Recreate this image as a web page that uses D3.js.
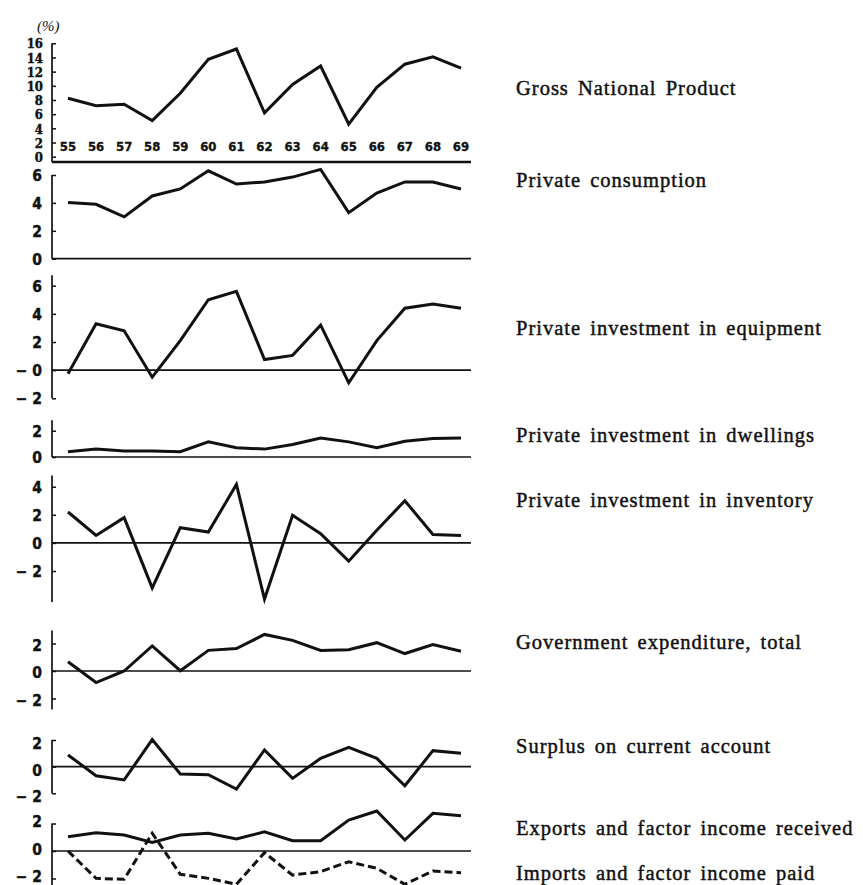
<!DOCTYPE html>
<html><head><meta charset="utf-8">
<script src="https://cdn.jsdelivr.net/npm/d3@7"></script>
<style>body{margin:0;background:#fff}svg{display:block}</style>
</head><body>
<svg id="c" width="863" height="885"></svg>
<script>
// ---------- data ----------
const years = ["55","56","57","58","59","60","61","62","63","64","65","66","67","68","69"];
const gnp         = [8.25, 7.2, 7.4, 5.1, 8.95, 13.75, 15.2, 6.2, 10.2, 12.8, 4.6, 9.8, 13.05, 14.1, 12.5];
const consumption = [4.03, 3.9, 3.0, 4.5, 5.0, 6.3, 5.35, 5.5, 5.85, 6.4, 3.3, 4.7, 5.5, 5.5, 5.0];
const equipment   = [-0.25, 3.3, 2.8, -0.5, 2.1, 5.0, 5.6, 0.75, 1.05, 3.2, -0.9, 2.1, 4.4, 4.7, 4.4];
const dwellings   = [0.4, 0.6, 0.45, 0.45, 0.4, 1.15, 0.7, 0.6, 0.95, 1.45, 1.15, 0.7, 1.2, 1.4, 1.45];
const inventory   = [2.2, 0.53, 1.8, -3.2, 1.08, 0.77, 4.16, -4.0, 1.96, 0.65, -1.3, 0.9, 3.0, 0.6, 0.53];
const government  = [0.67, -0.84, 0.0, 1.82, 0.02, 1.5, 1.63, 2.66, 2.23, 1.5, 1.55, 2.06, 1.27, 1.92, 1.44];
const surplus     = [0.88, -0.68, -1.0, 2.03, -0.55, -0.6, -1.68, 1.25, -0.88, 0.62, 1.45, 0.62, -1.43, 1.2, 1.0];
const exportsInc  = [1.04, 1.33, 1.16, 0.63, 1.16, 1.29, 0.87, 1.4, 0.75, 0.75, 2.25, 2.91, 0.8, 2.74, 2.57];
const importsPaid = [0.0, -1.99, -2.06, 1.29, -1.69, -1.99, -2.42, -0.12, -1.75, -1.5, -0.78, -1.26, -2.42, -1.45, -1.58];

const gnpTicks = [0, 2, 4, 6, 8, 10, 12, 14, 16];
const gnpTickLabels = ["0","2","4","6","8","10","12","14","16"];
const consTicks = [0, 2, 4, 6];
const consTickLabels = ["0","2","4","6"];
const equipTicks = [-2, 0, 2, 4, 6];
const equipTickLabels = ["\u2212 2","\u2212 0","2","4","6"];
const dwellTicks = [0, 2];
const dwellTickLabels = ["0","2"];
const invTicks = [-2, 0, 2, 4];
const invTickLabels = ["\u2212 2","0","2","4"];
const pmTicks = [-2, 0, 2];
const pmTickLabels = ["\u2212 2","0","2"];

const seriesNames = [
  "Gross National Product",
  "Private consumption",
  "Private investment in equipment",
  "Private investment in dwellings",
  "Private investment in inventory",
  "Government expenditure, total",
  "Surplus on current account",
  "Exports and factor income received",
  "Imports and factor income paid"
];

// ---------- layout ----------
const AX = 52, XEND = 471;
const svg = d3.select("#c");
const x = d3.scalePoint().domain(years).range([68, 461]);
const SANS = "'DejaVu Sans Condensed','DejaVu Sans',sans-serif";
const SERIF = "'Liberation Serif','Times New Roman',serif";

const panels = [
  {vals:[gnp], dash:[null], domain:[0,16], range:[156.7,43.3], ext:[0,16], bottom:162, ticks:gnpTicks, labels:gnpTickLabels,
   font:"'DejaVu Serif Condensed','DejaVu Serif',serif", fsize:13, pad:9, ldy:0, baseline:true, names:[0], nameY:[95]},
  {vals:[consumption], dash:[null], domain:[0,6], range:[258.7,175], ext:[0,6], ticks:consTicks, labels:consTickLabels,
   font:SANS, fsize:15.5, pad:10, ldy:0, names:[1], nameY:[187]},
  {vals:[equipment], dash:[null], domain:[-2,6], range:[398.3,285.7], ext:[-2,6.75], ticks:equipTicks, labels:equipTickLabels,
   font:SANS, fsize:15.5, pad:10, ldy:0, names:[2], nameY:[335]},
  {vals:[dwellings], dash:[null], domain:[0,2], range:[457,430.7], ext:[0,2.8], ticks:dwellTicks, labels:dwellTickLabels,
   font:SANS, fsize:15.5, pad:10, ldy:0, names:[3], nameY:[441.7]},
  {vals:[inventory], dash:[null], domain:[-2,4], range:[571,486.7], ext:[-4.2,4.8], ticks:invTicks, labels:invTickLabels,
   font:SANS, fsize:15.5, pad:10, ldy:0, names:[4], nameY:[506.7]},
  {vals:[government], dash:[null], domain:[-2,2], range:[698.5,643.5], ext:[-2.8,2.95], ticks:pmTicks, labels:pmTickLabels,
   font:SANS, fsize:15.5, pad:10, ldy:1, names:[5], nameY:[649.3]},
  {vals:[surplus], dash:[null], domain:[-2,2], range:[793.3,740], ext:[-2,2], ticks:pmTicks, labels:pmTickLabels,
   font:SANS, fsize:15.5, pad:10, ldy:3, names:[6], nameY:[753.3]},
  {vals:[exportsInc, importsPaid], dash:[null,"8,4"], domain:[-2,2], range:[878.5,823.5], ext:[-2.6,2], ticks:pmTicks, labels:pmTickLabels,
   font:SANS, fsize:15.5, pad:10, ldy:-2.5, names:[7,8], nameY:[835,880]}
];

panels.forEach(p => {
  const y = d3.scaleLinear().domain(p.domain).range(p.range);
  const g = svg.append("g");
  // vertical axis
  g.append("line")
    .attr("x1", AX).attr("x2", AX)
    .attr("y1", y(p.ext[1])).attr("y2", p.baseline ? p.bottom : y(p.ext[0]))
    .attr("stroke", "#111").attr("stroke-width", 1.7);
  // zero / base line
  const zy = p.baseline ? p.bottom : y(0);
  g.append("line")
    .attr("x1", AX).attr("x2", XEND).attr("y1", zy).attr("y2", zy)
    .attr("stroke", "#111").attr("stroke-width", p.baseline ? 2.4 : 1.7);
  // ticks + labels
  const axis = d3.axisLeft(y).tickValues(p.ticks)
    .tickFormat((d, i) => p.labels[i])
    .tickSizeInner(-4).tickSizeOuter(0).tickPadding(p.pad);
  const ga = g.append("g").attr("transform", `translate(${AX},0)`).call(axis);
  ga.select(".domain").remove();
  ga.selectAll(".tick line").attr("stroke", "#111").attr("stroke-width", 1.5);
  ga.selectAll(".tick text")
    .attr("fill", "#111")
    .style("font-family", p.font).style("font-weight", "bold").style("font-size", p.fsize + "px")
    .attr("stroke", "#111").attr("stroke-width", 0.4)
    .attr("dy", (p.ldy + p.fsize * 0.36) + "px");
  // series
  p.vals.forEach((vals, k) => {
    g.append("path").datum(vals)
      .attr("d", d3.line().x((d, i) => x(years[i])).y(d => y(d)))
      .attr("fill", "none").attr("stroke", "#111").attr("stroke-width", 3)
      .attr("stroke-linejoin", "miter").attr("stroke-miterlimit", 6)
      .attr("stroke-dasharray", p.dash[k]);
  });
  // right-hand names
  p.names.forEach((ni, k) => {
    svg.append("text").attr("x", 516).attr("y", p.nameY[k])
      .text(seriesNames[ni])
      .attr("fill", "#111")
      .attr("stroke", "#111").attr("stroke-width", 0.45)
      .style("font-family", SERIF).style("font-size", "20.5px")
      .style("letter-spacing", "1px").style("word-spacing", "3px");
  });
});

// year labels inside GNP panel
svg.append("g").selectAll("text").data(years).join("text")
  .attr("x", d => x(d)).attr("y", 151)
  .attr("text-anchor", "middle")
  .text(d => d)
  .attr("fill", "#111")
  .attr("stroke", "#111").attr("stroke-width", 0.3)
  .style("font-family", SANS).style("font-weight", "bold").style("font-size", "13px");

// unit label
svg.append("text").attr("x", 37).attr("y", 31).text("(%)")
  .attr("fill", "#111")
  .style("font-family", SERIF).style("font-style", "italic").style("font-size", "15px");
</script>
</body></html>
